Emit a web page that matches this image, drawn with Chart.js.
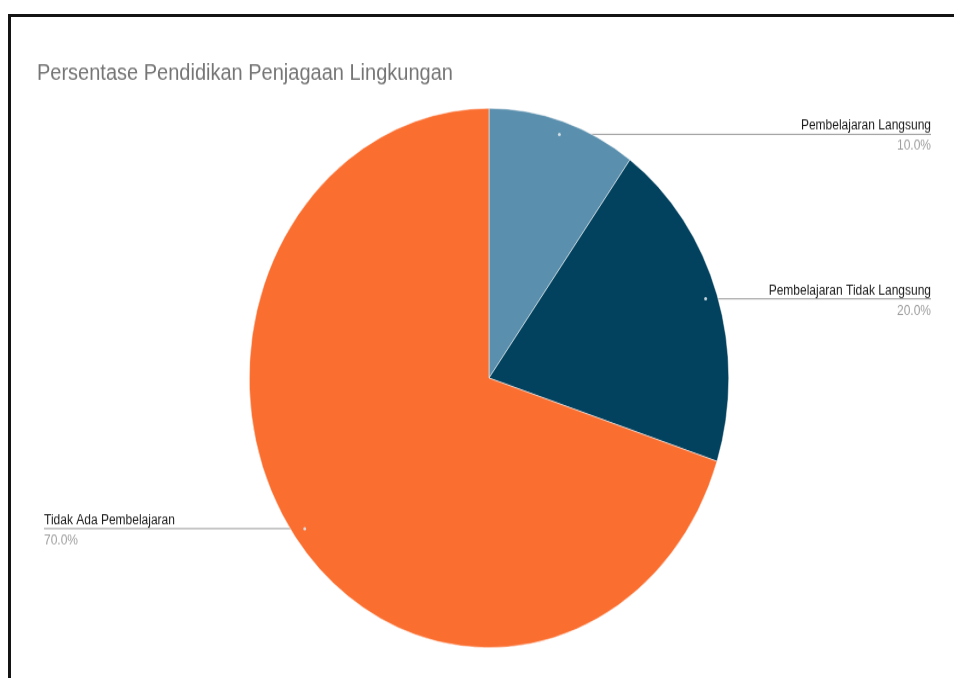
<!DOCTYPE html>
<html>
<head>
<meta charset="utf-8">
<title>Persentase Pendidikan Penjagaan Lingkungan</title>
<script src="https://cdn.jsdelivr.net/npm/chart.js@4.4.1/dist/chart.umd.min.js"></script>
<style>
    html, body { margin: 0; padding: 0; background: #ffffff; overflow: hidden; }
    #frame {
        position: absolute; left: 8px; top: 14px; width: 946px; height: 664px;
        border-top: 3px solid #141414; border-left: 3px solid #141414;
        box-sizing: border-box;
    }
    /* the source picture is stretched vertically, so the drawing is too */
    #wrap {
        position: absolute; left: 0; top: 0; width: 954px; height: 603px;
        transform: scaleY(1.125); transform-origin: 0 0;
    }
</style>
</head>
<body>
<div id="frame"></div>
<div id="wrap"><canvas id="pieChart"></canvas></div>
<script>
// Chart data
const chartTitle = "Persentase Pendidikan Penjagaan Lingkungan";
const categories = ["Pembelajaran Langsung", "Pembelajaran Tidak Langsung", "Tidak Ada Pembelajaran"];
const values = [10, 20, 70];

const total = values.reduce((a, b) => a + b, 0);

// Leader-line labels like the original (line behind the pie, text on the side)
const leaderLabels = {
    id: "leaderLabels",
    beforeDatasetsDraw(chart) {
        const ctx = chart.ctx;
        ctx.save();
        ctx.strokeStyle = "#9a9a9a";
        ctx.lineWidth = 1;
        getAnchors(chart).forEach(a => {
            ctx.beginPath();
            ctx.moveTo(a.x, a.y);
            ctx.lineTo(a.end, a.y);
            ctx.stroke();
        });
        ctx.restore();
    },
    afterDatasetsDraw(chart) {
        const ctx = chart.ctx;
        ctx.save();

        // title
        ctx.font = '20px "Liberation Sans", Arial, sans-serif';
        ctx.fillStyle = "#757575";
        ctx.textAlign = "left";
        ctx.textBaseline = "alphabetic";
        ctx.fillText(chartTitle, 37, 71);

        getAnchors(chart).forEach(a => {
            ctx.fillStyle = "rgba(220,230,235,0.9)";
            ctx.beginPath();
            ctx.arc(a.x, a.y, 1.5, 0, Math.PI * 2);
            ctx.fill();

            ctx.textAlign = a.right ? "right" : "left";
            ctx.font = '12px "Liberation Sans", Arial, sans-serif';
            ctx.fillStyle = "#1a1a1a";
            ctx.fillText(categories[a.index], a.end, a.y - 4);
            ctx.fillStyle = "#9e9e9e";
            ctx.fillText((values[a.index] / total * 100).toFixed(1) + "%", a.end, a.y + 14);
        });
        ctx.restore();
    }
};

function getAnchors(chart) {
    const meta = chart.getDatasetMeta(0);
    return meta.data.map((arc, i) => {
        const p = arc.getProps(["x", "y", "startAngle", "endAngle", "outerRadius"], true);
        const mid = (p.startAngle + p.endAngle) / 2;
        const right = Math.cos(mid) >= 0;
        return {
            index: i,
            right: right,
            x: p.x + Math.cos(mid) * p.outerRadius * 0.95,
            y: p.y + Math.sin(mid) * p.outerRadius * 0.95,
            end: right ? chart.width - 23 : 44
        };
    });
}

const ctx = document.getElementById("pieChart").getContext("2d");
new Chart(ctx, {
    type: "pie",
    data: {
        labels: categories,
        datasets: [{
            data: values,
            backgroundColor: ["#5a8fad", "#03425f", "#fa6e30"],
            borderColor: "#ffffff",
            borderWidth: 0.5
        }]
    },
    options: {
        responsive: true,
        maintainAspectRatio: false,
        animation: false,
        events: [],
        layout: { padding: { top: 96, bottom: 27, left: 249, right: 225 } },
        plugins: {
            legend: { display: false },
            title: { display: false },
            tooltip: { enabled: false }
        }
    },
    plugins: [leaderLabels]
});
</script>
</body>
</html>
